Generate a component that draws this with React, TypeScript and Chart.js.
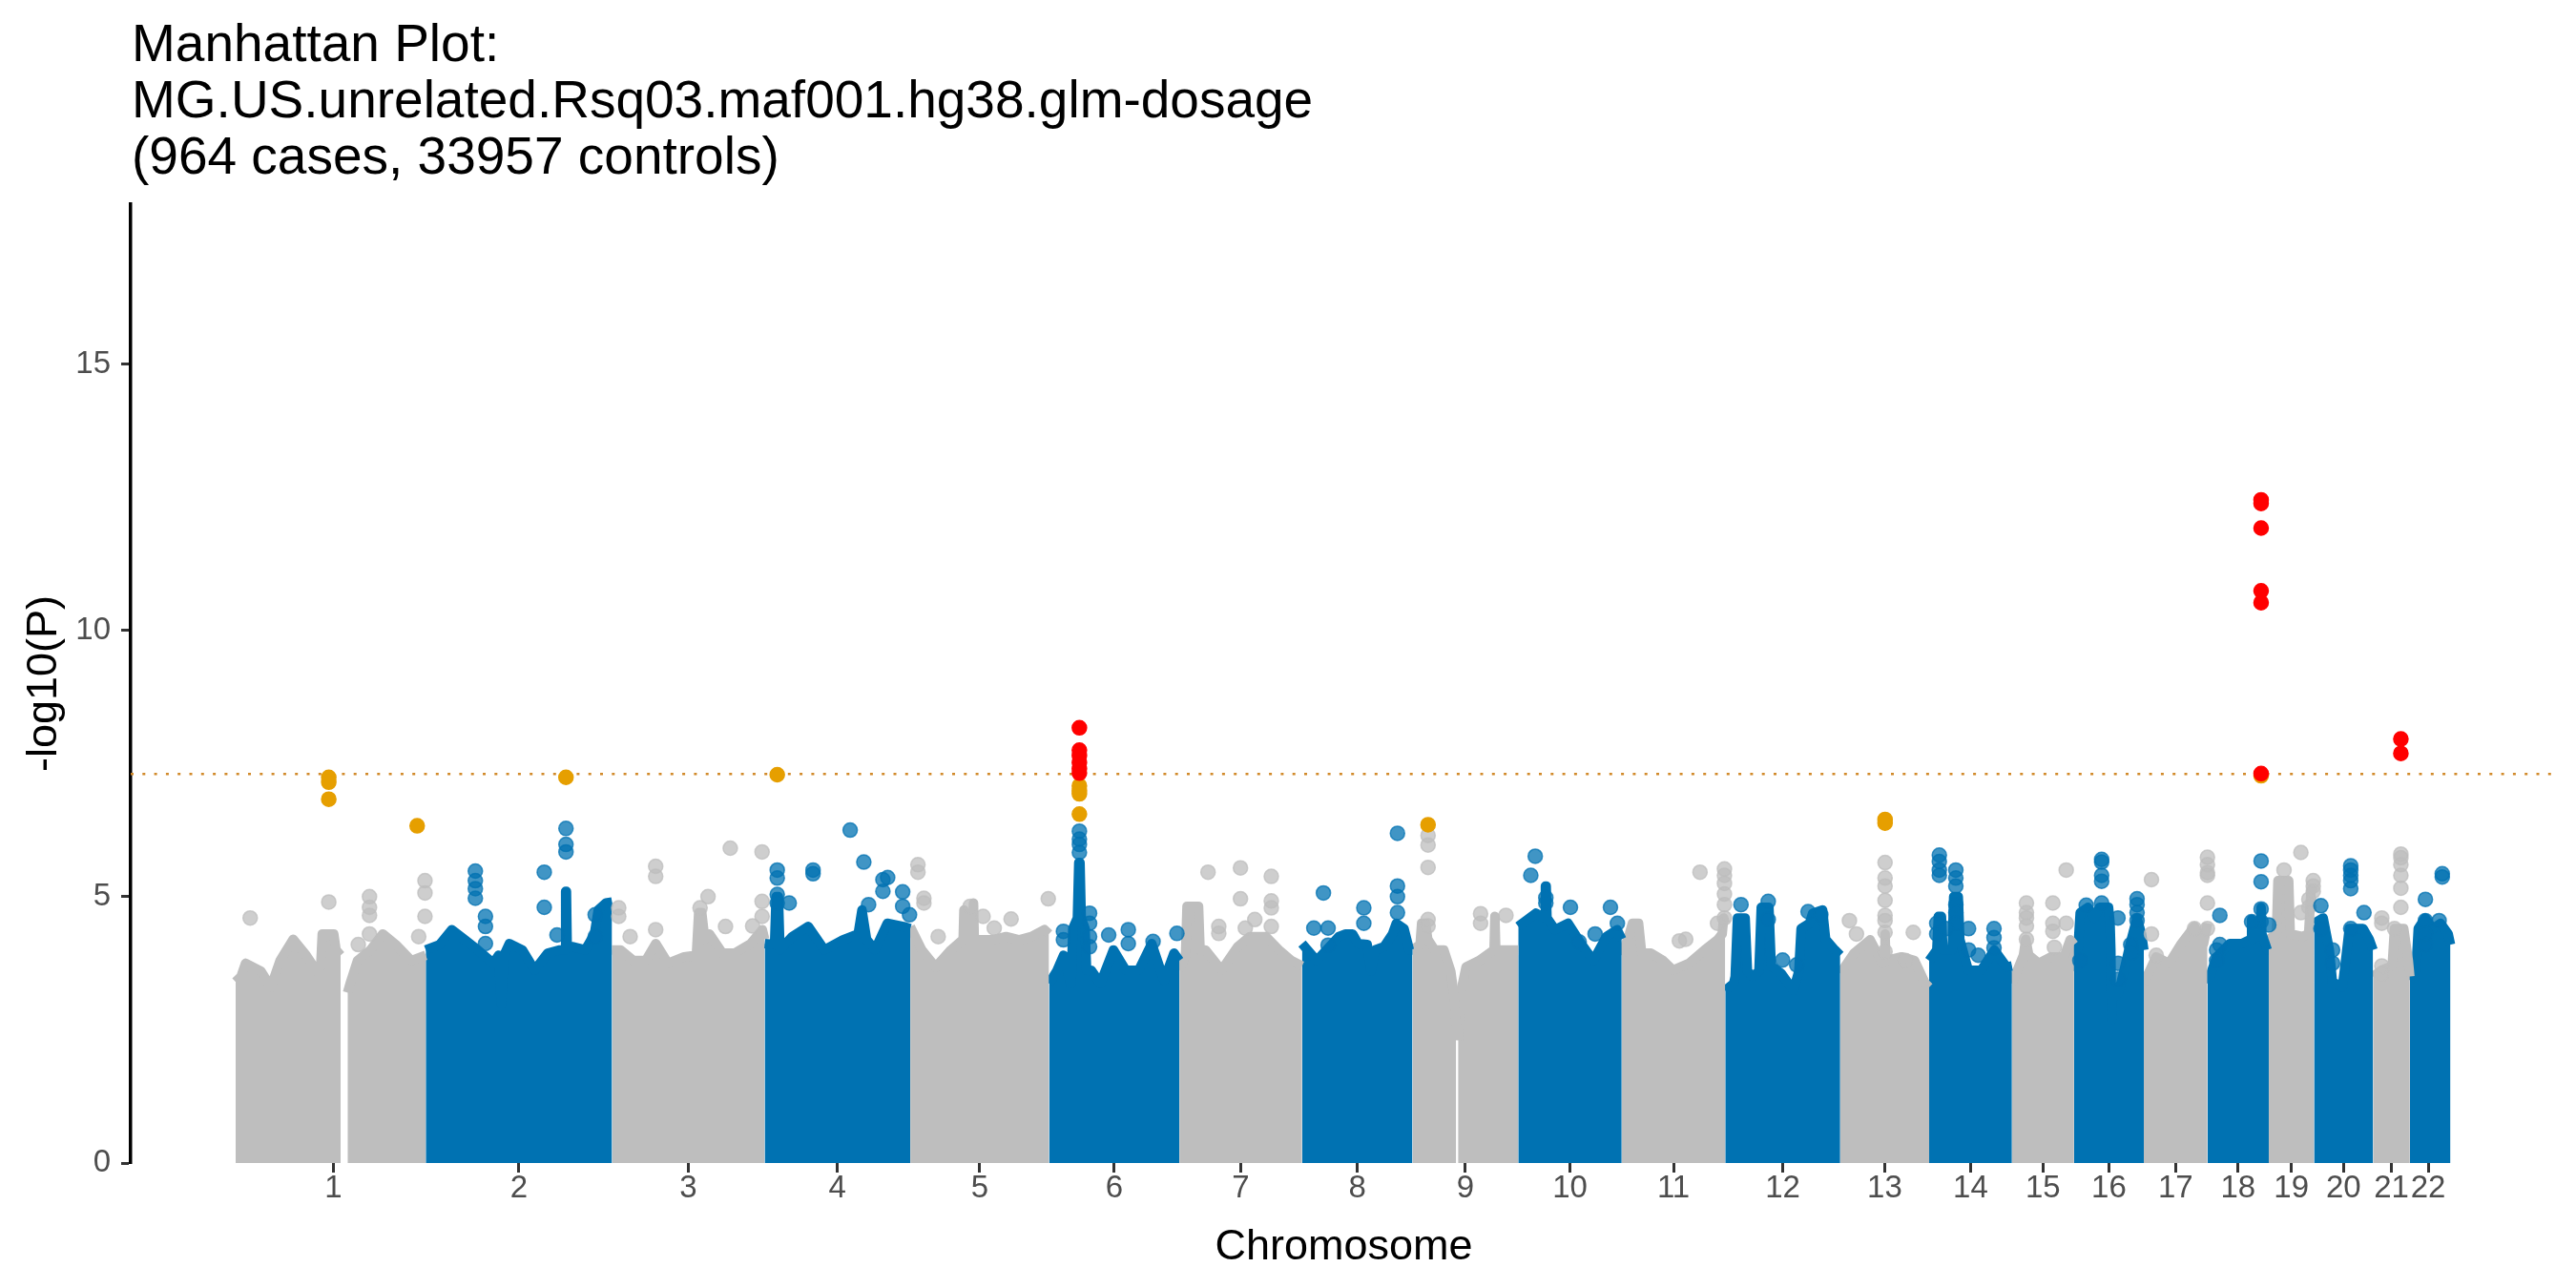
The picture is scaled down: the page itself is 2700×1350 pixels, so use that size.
import React, { useEffect, useRef } from 'react';
import Chart from 'chart.js/auto';

const titleLines = [
    'Manhattan Plot:',
    'MG.US.unrelated.Rsq03.maf001.hg38.glm-dosage',
    '(964 cases, 33957 controls)',
];

const chromosomes = ['1', '2', '3', '4', '5', '6', '7', '8', '9', '10', '11',
    '12', '13', '14', '15', '16', '17', '18', '19', '20', '21', '22'];

// width taken by each chromosome along the genome axis (Mb)
const chrSpanMb = [241, 243, 199, 190, 181, 170, 160, 144, 138, 135, 135,
    150, 116, 108, 81, 91, 83, 80, 59, 77, 48, 48];

const yTickValues = [0, 5, 10, 15];
const genomeWideP = 5e-8;
const suggestiveP = 5e-7;

// upper edge of the dense SNP cloud, per chromosome: [Mb, -log10(P)], null = gap
const cloudTop: ([number, number] | null)[][] = [
    [[-7, 3.4], [0, 3.5], [6, 3.75], [26, 3.6], [39, 3.3], [51, 3.8], [68, 4.2], [85, 3.9], [99, 3.6], [104, 3.7], [106, 4.3], [121, 4.3], [124, 4.0], [130, 3.9], null,
        [139, 3.2], [143, 3.4], [152, 3.8], [169, 4.0], [185, 4.3], [202, 4.1], [222, 3.8], [241, 3.9]],
    [[0, 4.0], [18, 4.1], [34, 4.38], [51, 4.19], [68, 4.0], [88, 3.75], [95, 3.9], [98.5, 3.0], [102, 3.9], [109, 4.12], [126, 4.0], [142, 3.62], [159, 3.94], [175, 4.0],
        [181.5, 4.0], [182.5, 5.1], [183.5, 5.1], [184.5, 4.06], [192, 4.06], [208, 4.0], [220, 4.3], [225, 4.75], [235, 4.88], [243, 4.9]],
    [[0, 4.0], [11, 4.0], [28, 3.8], [44, 3.8], [57, 4.12], [73, 3.75], [94, 3.87], [110, 3.9], [113, 4.7], [117, 4.7], [121, 4.2], [127, 4.3], [144, 3.94], [160, 3.94],
        [181, 4.12], [196, 4.38], [199, 4.2]],
    [[0, 4.12], [13, 4.1], [15, 5.0], [18, 5.0], [20, 4.0], [36, 4.25], [57, 4.44], [78, 4.0], [102, 4.19], [122, 4.3], [127, 4.75], [133, 4.2], [144, 4.0], [160, 4.5],
        [181, 4.44], [190, 4.4]],
    [[0, 4.44], [15, 4.0], [33, 3.68], [53, 4.0], [69, 4.2], [70, 4.75], [71, 4.2], [81.5, 4.2], [82.5, 4.88], [83.5, 4.19], [108, 4.19], [125, 4.25], [142, 4.19],
        [158, 4.25], [175, 4.38], [181, 4.3]],
    [[0, 3.37], [10, 3.6], [19, 3.9], [28, 3.37], [29, 3.4], [31, 4.4], [37, 4.6], [38.8, 5.64], [40.4, 5.64], [42, 4.6], [47, 4.4], [49, 3.62], [55, 3.62], [67, 3.37],
        [84, 4.0], [100, 3.62], [117, 3.62], [134, 4.12], [150, 3.43], [163, 3.94], [170, 3.8]],
    [[0, 3.62], [8, 3.9], [10, 4.82], [25, 4.82], [27, 4.0], [34, 4.0], [55, 3.62], [76, 4.06], [92, 4.25], [113, 4.25], [130, 4.0], [146, 3.8], [160, 3.7]],
    [[0, 4.12], [19, 3.8], [48, 4.25], [57, 4.3], [66, 4.3], [73, 4.12], [85, 4.1], [90, 3.6], [95, 4.0], [107, 4.06], [118, 4.3], [123, 4.5], [133, 4.4], [140, 4.0], [144, 4.0]],
    [[0, 4.0], [10, 4.1], [12, 4.5], [17, 4.5], [20, 4.2], [29, 4.0], [41, 4.0], [50, 3.6], [54, 3.18], [57, 2.6], null,
        [59.5, 2.3], [63, 3.2], [70, 3.68], [87, 3.8], [106.5, 4.0], [107.6, 4.63], [108.7, 4.0], [124, 4.0], [138, 4.0]],
    [[0, 4.44], [23, 4.69], [34.5, 4.6], [35.5, 5.2], [36.5, 5.2], [37.5, 4.6], [48, 4.38], [65, 4.5], [82, 4.12], [98, 3.8], [115, 4.25], [129, 4.38], [135, 4.2]],
    [[0, 3.9], [10, 4.3], [14, 4.5], [22, 4.5], [26, 3.94], [38, 3.94], [54, 3.8], [67, 3.62], [88, 3.75], [108, 4.0], [125, 4.19], [131, 4.3], [133, 4.6], [135, 4.5]],
    [[0, 3.24], [11, 3.37], [13, 3.5], [16, 4.6], [26, 4.6], [29, 3.6], [36, 3.5], [44, 3.6], [47, 4.8], [57, 4.8], [60, 3.7], [73, 3.56], [89, 3.24], [96, 3.6],
        [99, 4.4], [110, 4.5], [114, 4.69], [127, 4.75], [131, 4.2], [143, 4.0], [150, 3.9]],
    [[0, 3.56], [18, 3.94], [39, 4.19], [55, 3.75], [57.5, 3.8], [58.5, 4.3], [59.5, 3.8], [80, 3.87], [97, 3.8], [111, 3.37], [116, 3.3]],
    [[0, 3.8], [10, 4.0], [12, 4.63], [16, 4.63], [18, 4.0], [30, 4.0], [32, 5.0], [38, 5.0], [40, 4.2], [51, 3.62], [68, 3.62], [85, 4.0], [101, 3.68], [108, 3.7]],
    [[0, 3.37], [15, 3.9], [18, 4.2], [22, 3.9], [35, 3.75], [51, 3.87], [68, 3.87], [76, 4.19], [81, 4.1]],
    [[0, 3.6], [4, 3.75], [8, 4.7], [18, 4.8], [26, 4.6], [33, 4.8], [45, 4.8], [47, 4.5], [48, 4.0], [49, 2.7], [50, 3.1], [58, 3.2], [65, 3.6], [73, 4.1],
        [82, 4.6], [88, 4.3], [91, 4.0]],
    [[0, 3.37], [16, 3.87], [33, 3.75], [49, 4.12], [66, 4.44], [78, 4.12], [83, 4.5]],
    [[0, 3.37], [12, 3.87], [29, 4.12], [45, 4.12], [56.6, 4.2], [57.6, 4.57], [58.6, 4.2], [69, 4.3], [70, 4.8], [71, 4.3], [78, 4.0], [80, 4.0]],
    [[0, 4.2], [10, 4.3], [12, 5.3], [26, 5.3], [28, 4.3], [44, 4.25], [52, 4.3], [55, 5.1], [59, 5.2]],
    [[0, 4.5], [12, 4.6], [20, 4.0], [24, 3.4], [37, 3.3], [42, 3.9], [46, 4.4], [64, 4.4], [72, 4.2], [77, 4.0]],
    [[0, 3.5], [11, 3.62], [25, 3.7], [28, 4.4], [40, 4.4], [46, 3.8], [48, 3.5]],
    [[0, 3.43], [8, 3.6], [11, 4.4], [20, 4.6], [30, 4.4], [40, 4.5], [50, 4.3], [53, 4.1]],
];

// SNPs standing out above the cloud: [Mb, -log10(P) of each SNP at that spot, ...]
const peakSnps: number[][][] = [
    [[12, 4.6], [114.5, 7.24, 7.15, 6.83, 4.9], [167.6, 5.0, 4.8, 4.65, 4.3], [153, 4.1], [229.8, 6.33], [231.8, 4.25], [240, 5.3, 5.07, 4.63]],
    [[64.7, 5.48, 5.3, 5.15, 4.97], [77.9, 4.63, 4.44, 4.12], [154.6, 5.46, 4.8], [182.9, 7.24, 6.28, 5.98, 5.84], [171.2, 4.28], [221, 4.66, 4.25]],
    [[8.7, 4.79, 4.63], [23.6, 4.25], [56.9, 5.57, 5.38, 4.38], [154.2, 5.91], [195.7, 5.84, 4.91, 4.63], [125.2, 5.0], [114.8, 4.79], [148, 4.44], [183.4, 4.45]],
    [[16.5, 7.29, 5.5, 5.35, 5.04, 4.88], [32.1, 4.88], [63.2, 5.5, 5.43], [111.6, 6.25], [129.4, 5.65], [154.3, 5.32, 5.1], [160.5, 5.36], [180.1, 5.09, 4.82],
        [135.6, 4.85], [189, 4.66]],
    [[10, 5.6, 5.46], [17.8, 4.97, 4.88], [36.4, 4.25], [78.2, 4.82], [95, 4.63], [131.5, 4.58], [180, 4.96], [109.5, 4.41]],
    [[39.6, 8.17, 7.75, 7.65, 7.52, 7.4, 7.32, 7.08, 6.99, 6.93, 6.55, 6.23, 6.08, 5.98, 5.83], [18.8, 4.35, 4.19], [52.9, 4.69, 4.5, 4.25, 4.06], [77.8, 4.28],
        [103.4, 4.38, 4.12], [135.7, 4.16], [166.8, 4.31]],
    [[37.4, 5.46], [79.7, 5.54, 4.96], [119.9, 5.38, 4.92, 4.79, 4.44], [51.4, 4.44, 4.31], [98.4, 4.57], [86, 4.41]],
    [[27.9, 5.07], [15.4, 4.41], [34, 4.41, 4.09], [80.6, 4.79, 4.5], [124.5, 6.19, 5.2, 5.0, 4.7]],
    [[20.4, 6.35, 6.15, 5.97, 5.55, 4.57, 4.45], [88.9, 4.68, 4.5], [122, 4.65]],
    [[22.2, 5.76], [16.4, 5.4], [36, 4.98, 4.88], [68.1, 4.8], [120.3, 4.8], [129.3, 4.5], [100.3, 4.3], [79.5, 4.15]],
    [[102.1, 5.46], [83.5, 4.2], [75.2, 4.17], [134, 5.52, 5.4, 5.25, 5.05, 4.85, 4.6], [124.9, 4.5]],
    [[20.6, 4.85], [56.1, 4.91, 4.57], [74.9, 3.81], [108.1, 4.72], [124.7, 4.66], [93.2, 3.72]],
    [[58.5, 6.45, 6.38, 5.64, 5.35, 5.2, 4.93, 4.65, 4.55, 4.33, 3.97], [12, 4.55], [21.2, 4.3], [95.3, 4.33], [85, 3.8]],
    [[13.3, 5.78, 5.66, 5.5, 5.4], [34.8, 5.5, 5.35, 5.2, 4.85, 4.7, 4.5], [9.9, 4.5, 4.3], [22.4, 4.4], [51.4, 4.4, 4.0], [84.6, 4.4, 4.23, 4.04], [64, 3.9]],
    [[18.9, 4.88, 4.7, 4.6, 4.45, 4.2], [53.4, 4.88, 4.5, 4.35], [70.8, 5.5, 4.5], [55.4, 4.05]],
    [[36, 5.7, 5.65, 5.4, 5.29, 4.88], [15.9, 4.84], [7.6, 3.8], [57.3, 4.6, 3.75, 3.45], [73.9, 4.1], [82.2, 4.96, 4.85, 4.7, 4.55], [75.4, 3.95]],
    [[10, 5.32, 4.3], [83, 5.74, 5.6, 5.45, 5.4, 4.88, 4.4], [66, 4.4], [16.2, 3.9]],
    [[70, 12.45, 12.38, 11.92, 10.74, 10.52, 7.31, 7.27, 5.67, 5.28, 4.77, 4.53], [57.6, 4.53], [16.2, 4.65, 4.1], [11.9, 4.0, 3.8], [80, 4.47]],
    [[19.9, 5.5], [41.9, 5.83, 4.7], [52.3, 4.95, 4.8], [58, 5.3, 5.2, 5.1]],
    [[47.9, 5.58, 5.5, 5.4, 5.3, 5.15, 4.4], [9, 4.83, 4.4], [24.3, 4.0, 3.75], [65.2, 4.7]],
    [[36.3, 7.96, 7.69, 5.8, 5.73, 5.6, 5.4, 5.16, 4.8], [11.4, 4.6, 4.5, 3.7, 3.55], [28, 4.4]],
    [[42.3, 5.43, 5.37], [20.3, 4.95, 4.55, 4.3, 4.1], [38.2, 4.55]],
];

const greyBody = '#BEBEBE';
const blueBody = '#0072B2';
const greyPoint = 'rgba(190, 190, 190, 0.75)';
const bluePoint = 'rgba(0, 114, 178, 0.75)';
const fontFamily = '"Liberation Sans", Arial, Helvetica, sans-serif';

const titlePlugin = {
    id: 'plotTitle',
    afterDraw(chart: any) {
        const { ctx, chartArea } = chart;
        ctx.save();
        ctx.font = `55px ${fontFamily}`;
        ctx.fillStyle = '#000000';
        ctx.textAlign = 'left';
        ctx.textBaseline = 'alphabetic';
        titleLines.forEach((line, i) => ctx.fillText(line, chartArea.left + 1, 64 + i * 59));
        ctx.restore();
    },
};

const ManhattanPlot: React.FC = () => {
    const canvasRef = useRef<HTMLCanvasElement | null>(null);

    useEffect(() => {
        if (!canvasRef.current) return;

        const offsets: number[] = [];
        let genomeLength = 0;
        chrSpanMb.forEach(span => {
            offsets.push(genomeLength);
            genomeLength += span;
        });
        const xMin = -0.05 * genomeLength;
        const xMax = genomeLength * 1.05;
        const tickCenters = offsets.map((o, i) => o + chrSpanMb[i] / 2);
        const genomeWide = -Math.log10(genomeWideP);
        const suggestive = -Math.log10(suggestiveP);

        const red: { x: number; y: number }[] = [];
        const orange: { x: number; y: number }[] = [];
        const grey: { x: number; y: number }[] = [];
        const blue: { x: number; y: number }[] = [];
        peakSnps.forEach((spots, c) => {
            spots.forEach(([pos, ...values]) => {
                values.forEach(v => {
                    const pt = { x: offsets[c] + pos, y: v };
                    if (v >= genomeWide) red.push(pt);
                    else if (v >= suggestive) orange.push(pt);
                    else if (c % 2 === 0) grey.push(pt);
                    else blue.push(pt);
                });
            });
        });

        const bodies: any[] = [];
        cloudTop.forEach((profile, c) => {
            const colour = c % 2 === 0 ? greyBody : blueBody;
            let seg: { x: number; y: number }[] = [];
            const flush = () => {
                if (seg.length) {
                    bodies.push({
                        type: 'line',
                        data: seg,
                        fill: 'origin',
                        backgroundColor: colour,
                        borderColor: colour,
                        borderWidth: 10,
                        borderJoinStyle: 'round',
                        borderCapStyle: 'butt',
                        pointRadius: 0,
                        tension: 0,
                        order: 5,
                    });
                }
                seg = [];
            };
            profile.forEach(pt => {
                if (pt) seg.push({ x: offsets[c] + pt[0], y: pt[1] });
                else flush();
            });
            flush();
        });

        const pointStyle = (fill: string) => ({
            type: 'scatter',
            backgroundColor: fill,
            borderColor: fill,
            borderWidth: 1.5,
            pointRadius: 7.5,
        });

        const tickFont = { family: fontFamily, size: 33 };
        const titleFont = { family: fontFamily, size: 45 };

        const chart = new Chart(canvasRef.current, {
            type: 'scatter',
            data: {
                datasets: [
                    { ...pointStyle('#FF0000'), data: red, order: 0 },
                    { ...pointStyle('#E69F00'), data: orange, order: 1 },
                    { ...pointStyle(bluePoint), data: blue, order: 2 },
                    { ...pointStyle(greyPoint), data: grey, order: 3 },
                    ...bodies,
                    {
                        type: 'line',
                        data: [{ x: xMin, y: genomeWide }, { x: xMax, y: genomeWide }],
                        borderColor: '#D18A2A',
                        borderWidth: 2.5,
                        borderDash: [3, 9.3],
                        pointRadius: 0,
                        fill: false,
                        order: 9,
                    },
                ] as any,
            },
            options: {
                responsive: false,
                animation: false,
                events: [],
                layout: { autoPadding: false, padding: { top: 214, right: 20, bottom: 0, left: 0 } },
                plugins: {
                    legend: { display: false },
                    tooltip: { enabled: false },
                    title: { display: false },
                },
                scales: {
                    x: {
                        type: 'linear',
                        min: xMin,
                        max: xMax,
                        afterBuildTicks: (scale: any) => {
                            scale.ticks = tickCenters.map(v => ({ value: v }));
                        },
                        afterFit: (scale: any) => {
                            scale.height = 131;
                        },
                        ticks: {
                            autoSkip: false,
                            maxRotation: 0,
                            minRotation: 0,
                            padding: -3,
                            color: '#4D4D4D',
                            font: tickFont,
                            callback: (_v: any, i: number) => chromosomes[i],
                        },
                        grid: {
                            drawOnChartArea: false,
                            drawTicks: true,
                            tickLength: 10,
                            tickWidth: 3,
                            tickColor: '#333333',
                        },
                        border: { display: false },
                        title: {
                            display: true,
                            text: 'Chromosome',
                            color: '#000000',
                            font: titleFont,
                            padding: { top: 0, bottom: 15 },
                        },
                    },
                    y: {
                        type: 'linear',
                        min: 0,
                        max: 18,
                        afterBuildTicks: (scale: any) => {
                            scale.ticks = yTickValues.map(v => ({ value: v }));
                        },
                        afterFit: (scale: any) => {
                            scale.width = 137;
                        },
                        ticks: {
                            padding: 11,
                            color: '#4D4D4D',
                            font: tickFont,
                        },
                        grid: {
                            drawOnChartArea: false,
                            drawTicks: true,
                            tickLength: 10,
                            tickWidth: 3,
                            tickColor: '#333333',
                        },
                        border: { display: true, color: '#000000', width: 3.5 },
                        title: {
                            display: true,
                            text: '-log10(P)',
                            color: '#000000',
                            font: titleFont,
                            padding: { top: 20, bottom: 0 },
                        },
                    },
                },
            } as any,
            plugins: [titlePlugin],
        });

        return () => {
            chart.destroy();
        };
    }, []);

    return (
        <div style={{ position: 'absolute', left: 0, top: 0, width: 2700, height: 1350, background: '#ffffff' }}>
            <canvas ref={canvasRef} width={2700} height={1350} style={{ display: 'block', width: 2700, height: 1350 }} />
        </div>
    );
};

export default function App() {
    return <ManhattanPlot />;
}
